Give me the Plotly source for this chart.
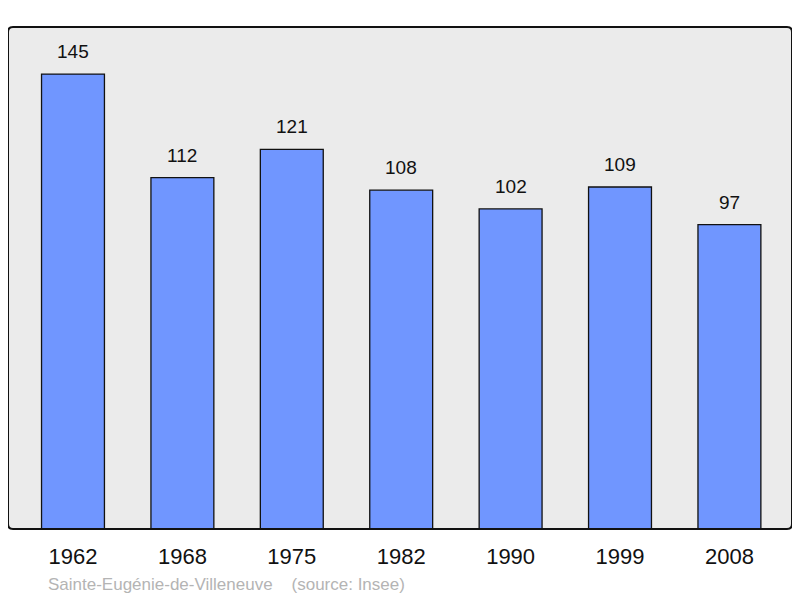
import plotly.graph_objects as go

years = ["1962", "1968", "1975", "1982", "1990", "1999", "2008"]
population = [145, 112, 121, 108, 102, 109, 97]
footer = "Sainte-Eugénie-de-Villeneuve    (source: Insee)"

fig = go.Figure()
fig.add_trace(go.Bar(
    x=list(range(len(years))), y=population,
    width=0.575,
    marker=dict(color="#7096ff", line=dict(color="#111111", width=1.3)),
    hoverinfo="skip",
))

for i, v in enumerate(population):
    fig.add_annotation(x=i, y=v, text=str(v), showarrow=False,
                       yanchor="bottom", yshift=10,
                       font=dict(family="Liberation Sans, Arial", size=19, color="#111111"))

fig.add_annotation(xref="paper", yref="paper", x=0.049, y=-0.11,
                   xanchor="left", yanchor="middle", text=footer.replace("    ", "&nbsp;&nbsp;&nbsp;&nbsp;"),
                   showarrow=False,
                   font=dict(family="Liberation Sans, Arial", size=17, color="#b4b4b4"))

# rounded frame around plot area (paper coords; plot area is 784 x 502 px)
rx, ry = 5 / 784, 5 / 502
path = (f"M {rx},0 L {1-rx},0 Q 1,0 1,{ry} L 1,{1-ry} Q 1,1 {1-rx},1 "
        f"L {rx},1 Q 0,1 0,{1-ry} L 0,{ry} Q 0,0 {rx},0 Z")
fig.add_shape(type="path", xref="paper", yref="paper", path=path,
              line=dict(color="#111111", width=2), layer="above")

fig.update_layout(
    width=792, height=590,
    margin=dict(l=0, r=8, t=19, b=69),
    paper_bgcolor="white", plot_bgcolor="#ebebeb",
    showlegend=False,
    xaxis=dict(range=[-0.594, 6.572], tickmode="array", tickvals=list(range(len(years))),
               ticktext=years, showgrid=False, zeroline=False, ticks="",
               ticklabelstandoff=12,
               tickfont=dict(family="Liberation Sans, Arial", size=22, color="#111111")),
    yaxis=dict(range=[0, 160], showgrid=False, zeroline=False, showticklabels=False, ticks=""),
)

fig.write_html("out.html")
